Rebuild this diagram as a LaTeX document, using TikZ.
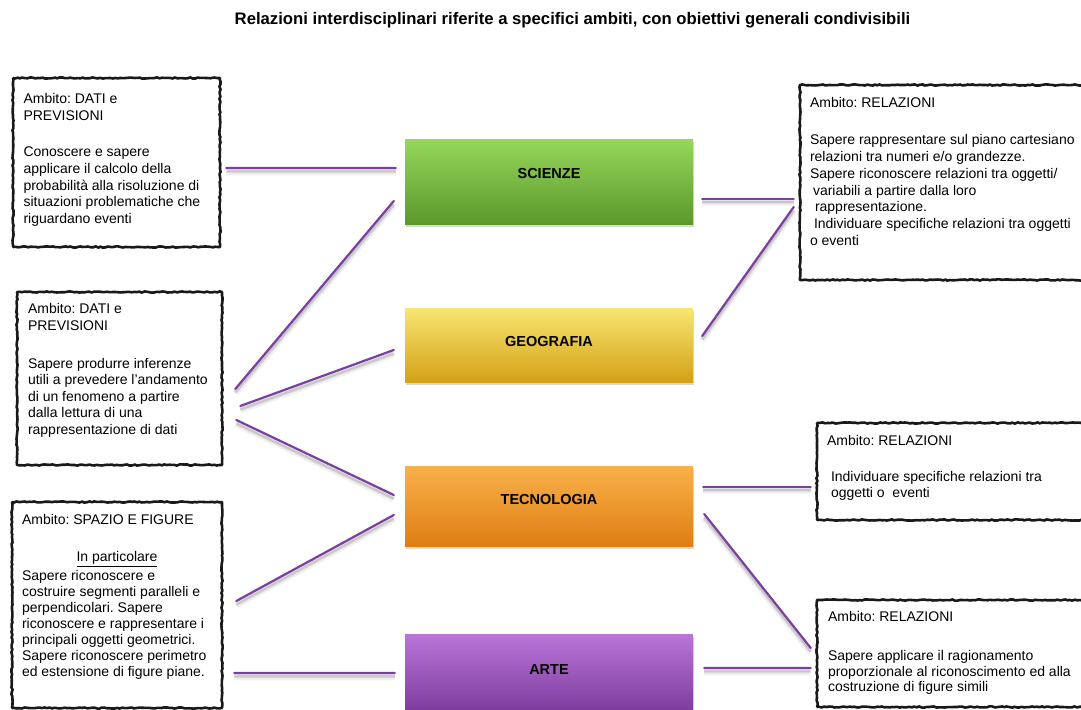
\documentclass[tikz,border=0pt]{standalone}
\usepackage{fontspec}
\setmainfont{Liberation Sans}
\usetikzlibrary{decorations.pathmorphing,shadows}
\frenchspacing
\definecolor{linkpurple}{HTML}{7B3FA0}
\definecolor{sciTop}{HTML}{95D65B}
\definecolor{sciBot}{HTML}{5A982B}
\definecolor{geoTop}{HTML}{F8E570}
\definecolor{geoBot}{HTML}{D3A015}
\definecolor{tecTop}{HTML}{F9B04A}
\definecolor{tecBot}{HTML}{DE7E12}
\definecolor{arteTop}{HTML}{BA74D8}
\definecolor{arteBot}{HTML}{7A3A9B}
% width, height, top pad, left pad, line skip, text
\newcommand{\ambtext}[6]{%
  \begin{minipage}[t][#2][t]{#1}%
  \fontsize{14bp}{#5}\selectfont\raggedright\parskip=0pt
  \vspace*{#3}\leftskip=#4\relax
  #6%
  \end{minipage}}
\pgfmathsetseed{7}
\begin{document}
\begin{tikzpicture}[line join=bevel,
  ambito/.style={draw=black!90,fill=white,line width=2.6bp,inner sep=0pt,
    decorate,decoration={random steps,segment length=2.5bp,amplitude=0.6bp}},
  subj/.style={minimum width=288bp,inner sep=0pt,text height=10.5bp,text depth=#1,
    font=\fontsize{14.5bp}{16bp}\selectfont\bfseries,
    drop shadow={shadow xshift=1bp,shadow yshift=-2bp,opacity=0.3}},
  link/.style={draw=linkpurple,line width=2.2bp,line cap=round,
    preaction={draw=black,line width=7bp,opacity=0.05,transform canvas={yshift=-4bp}},
    preaction={draw=black,line width=4bp,opacity=0.08,transform canvas={yshift=-3.5bp}},
    preaction={draw=black,line width=2bp,opacity=0.1,transform canvas={yshift=-3.5bp}}},
]
\useasboundingbox (0bp,0bp) rectangle (1081bp,710bp);
%%
\node (title) at (572.5bp,690.0bp) [font=\fontsize{16.7bp}{18bp}\selectfont\bfseries] {Relazioni interdisciplinari riferite a specifici ambiti, con obiettivi generali condivisibili};
%
\node (sci) at (549.0bp,527.5bp) [subj=19bp,minimum height=85bp,top color=sciTop,bottom color=sciBot] {SCIENZE};
  \node (geo) at (549.0bp,364.0bp) [subj=10bp,minimum height=74bp,top color=geoTop,bottom color=geoBot] {GEOGRAFIA};
  \node (tec) at (549.0bp,203.0bp) [subj=16bp,minimum height=80bp,top color=tecTop,bottom color=tecBot] {TECNOLOGIA};
  \node (arte) at (549.0bp,35.0bp) [subj=12bp,minimum height=80bp,top color=arteTop,bottom color=arteBot] {ARTE};
%
\node (datiA) at (116.5bp,547.5bp) [ambito] {\ambtext{207bp}{169bp}{15.8bp}{10.5bp}{16.7bp}{Ambito: DATI e\\PREVISIONI\\[19.3bp]Conoscere e sapere\\applicare il calcolo della\\probabilità alla risoluzione di\\situazioni problematiche che\\riguardano eventi}};
  \node (datiB) at (119.5bp,331.5bp) [ambito] {\ambtext{205bp}{173bp}{11.8bp}{11bp}{16.5bp}{Ambito: DATI e\\PREVISIONI\\[21.5bp]Sapere produrre inferenze\\utili a prevedere l’andamento\\di un fenomeno a partire\\dalla lettura di una\\rappresentazione di dati}};
  \node (spazio) at (117.0bp,105.0bp) [ambito] {\ambtext{210bp}{206bp}{12.8bp}{10bp}{16bp}{Ambito: SPAZIO E FIGURE\par\vspace{21bp}{\centering\underline{In particolare}\par}\vspace{3bp}Sapere riconoscere e\\costruire segmenti paralleli e\\perpendicolari. Sapere\\riconoscere e rappresentare i\\principali oggetti geometrici.\\Sapere riconoscere perimetro\\ed estensione di figure piane.}};
  \node (relA) at (945.0bp,527.5bp) [ambito] {\ambtext{290bp}{195bp}{12.8bp}{10bp}{16.7bp}{Ambito: RELAZIONI\\[20.3bp]Sapere rappresentare sul piano cartesiano\\relazioni tra numeri e/o grandezze.\\Sapere riconoscere relazioni tra oggetti/\\\hspace*{3bp}variabili a partire dalla loro\\\hspace*{5bp}rappresentazione.\\\hspace*{4bp}Individuare specifiche relazioni tra oggetti\\o eventi}};
  \node (relB) at (953.5bp,238.5bp) [ambito] {\ambtext{273bp}{97bp}{12.8bp}{10bp}{16bp}{Ambito: RELAZIONI\\[20bp]\hspace*{4bp}Individuare specifiche relazioni tra\\\hspace*{4bp}oggetti o\ \ eventi}};
  \node (relC) at (953.5bp,56.5bp) [ambito] {\ambtext{273bp}{107bp}{11.8bp}{11bp}{15.5bp}{Ambito: RELAZIONI\\[23.5bp]Sapere applicare il ragionamento\\proporzionale al riconoscimento ed alla\\costruzione di figure simili}};
%
\draw [link] ([shift={(5bp,-5.5bp)}]datiA.east) -- ([shift={(-9bp,14.5bp)}]sci.west);
  \draw [link] ([shift={(12bp,-10.5bp)}]datiB.east) -- ([shift={(-11bp,-18.5bp)}]sci.west);
  \draw [link] ([shift={(17bp,-27.5bp)}]datiB.east) -- ([shift={(-11bp,-4bp)}]geo.west);
  \draw [link] ([shift={(13bp,-41.5bp)}]datiB.east) -- ([shift={(-11bp,12bp)}]tec.west);
  \draw [link] ([shift={(13bp,4bp)}]spazio.east) -- ([shift={(-11bp,-8bp)}]tec.west);
  \draw [link] ([shift={(11bp,-68bp)}]spazio.east) -- ([shift={(-10bp,2bp)}]arte.west);
  \draw [link] ([shift={(9bp,-16.5bp)}]sci.east) -- ([shift={(-5bp,-16.5bp)}]relA.west);
  \draw [link] ([shift={(9bp,10bp)}]geo.east) -- ([shift={(-5bp,-24.5bp)}]relA.west);
  \draw [link] ([shift={(10bp,20bp)}]tec.east) -- ([shift={(-5bp,-15.5bp)}]relB.west);
  \draw [link] ([shift={(11bp,-7bp)}]tec.east) -- ([shift={(-5bp,5.5bp)}]relC.west);
  \draw [link] ([shift={(11bp,7bp)}]arte.east) -- ([shift={(-5bp,-14.5bp)}]relC.west);
%
\end{tikzpicture}
\end{document}
